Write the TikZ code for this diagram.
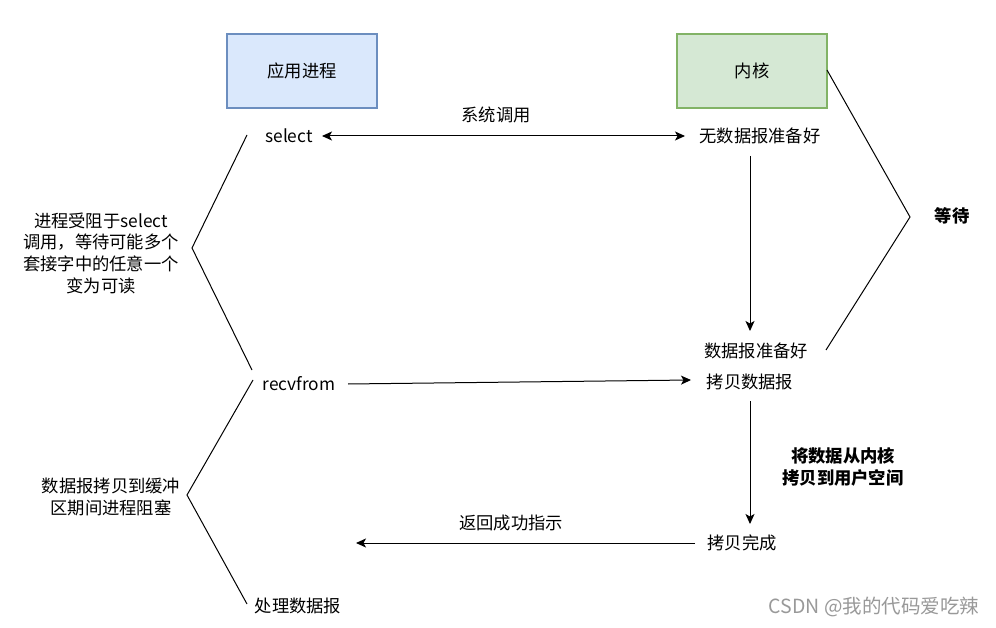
\documentclass[tikz,border=0pt]{standalone}
\usepackage{fontspec}
\setmainfont{Liberation Sans}
\newfontfamily\cjk{Noto Sans CJK SC}
\usetikzlibrary{arrows.meta}
\definecolor{bluefill}{HTML}{DAE8FC}
\definecolor{blueline}{HTML}{6C8EBF}
\definecolor{greenfill}{HTML}{D5E8D4}
\definecolor{greenline}{HTML}{82B366}
\begin{document}
\begin{tikzpicture}[x=1pt,y=-1pt,
  txt/.style={font=\fontsize{17.3}{21.7}\selectfont\cjk, inner sep=0pt, align=center},
  boldtxt/.style={font=\fontsize{17.3}{22}\selectfont\cjk\bfseries, inner sep=0pt, align=center},
  box/.style={minimum width=150pt, minimum height=74pt, inner sep=0pt, line width=1.2pt, font=\fontsize{17.3}{21}\selectfont\cjk},
  arr/.style={line width=1pt, -{Stealth[length=10pt,width=9pt,inset=2.5pt]}},
  ln/.style={line width=1pt}]
\useasboundingbox (0,0) rectangle (996,628);
\fill[white] (0,0) rectangle (996,628);

\node[box, fill=bluefill, draw=blueline] (app) at (302,71) {应用进程};
\node[box, fill=greenfill, draw=greenline] (kern) at (752,71) {内核};

\node[txt] (sel) at (289,136) {select};
\node[txt] (sys) at (496,115) {系统调用};
\node[txt] (nodata) at (760,136) {无数据报准备好};
\node[txt] (ready) at (756,351) {数据报准备好};
\node[txt] (copy) at (750,382) {拷贝数据报};
\node[txt] (recv) at (299,384) {recvfrom};
\node[boldtxt] (k2u) at (843,467) {将数据从内核\\拷贝到用户空间};
\node[txt] (done) at (742,543) {拷贝完成};
\node[txt] (ret) at (511,523) {返回成功指示};
\node[txt] (proc) at (298,606) {处理数据报};
\node[txt] (block1) at (101,253) {进程受阻于select\\调用，等待可能多个\\套接字中的任意一个\\变为可读};
\node[txt] (block2) at (111,497) {数据报拷贝到缓冲\\区期间进程阻塞};
\node[boldtxt] (wait) at (952,216) {等待};
\node[font=\fontsize{19.5}{22}\selectfont\cjk, text=black!40, inner sep=0pt] (mark) at (874,607) {CSDN @我的代码爱吃辣};

% connectors
\coordinate (s1) at (322,136);
\coordinate (s2) at (685,136);
\draw[line width=1pt, {Stealth[length=10pt,width=9pt,inset=2.5pt]}-{Stealth[length=10pt,width=9pt,inset=2.5pt]}] (s1) -- (s2);

\coordinate (d1) at (750,156);
\coordinate (d2) at (750,331);
\draw[arr] (d1) -- (d2);

\coordinate (r1) at (348,384);
\coordinate (r2) at (691,380);
\draw[arr] (r1) -- (r2);

\coordinate (c1) at (750,401);
\coordinate (c2) at (750,524);
\draw[arr] (c1) -- (c2);

\coordinate (b1) at (695,543);
\coordinate (b2) at (356,543);
\draw[arr] (b1) -- (b2);

% braces
\coordinate (lb1a) at (247,135);
\coordinate (lb1m) at (192,248);
\coordinate (lb1b) at (252,370);
\draw[ln] (lb1a) -- (lb1m) -- (lb1b);

\coordinate (lb2a) at (253,380);
\coordinate (lb2m) at (187,495);
\coordinate (lb2b) at (247,604);
\draw[ln] (lb2a) -- (lb2m) -- (lb2b);

\coordinate (rba) at (827,70);
\coordinate (rbm) at (910,217);
\coordinate (rbb) at (826,350);
\draw[ln] (rba) -- (rbm) -- (rbb);
\end{tikzpicture}
\end{document}
